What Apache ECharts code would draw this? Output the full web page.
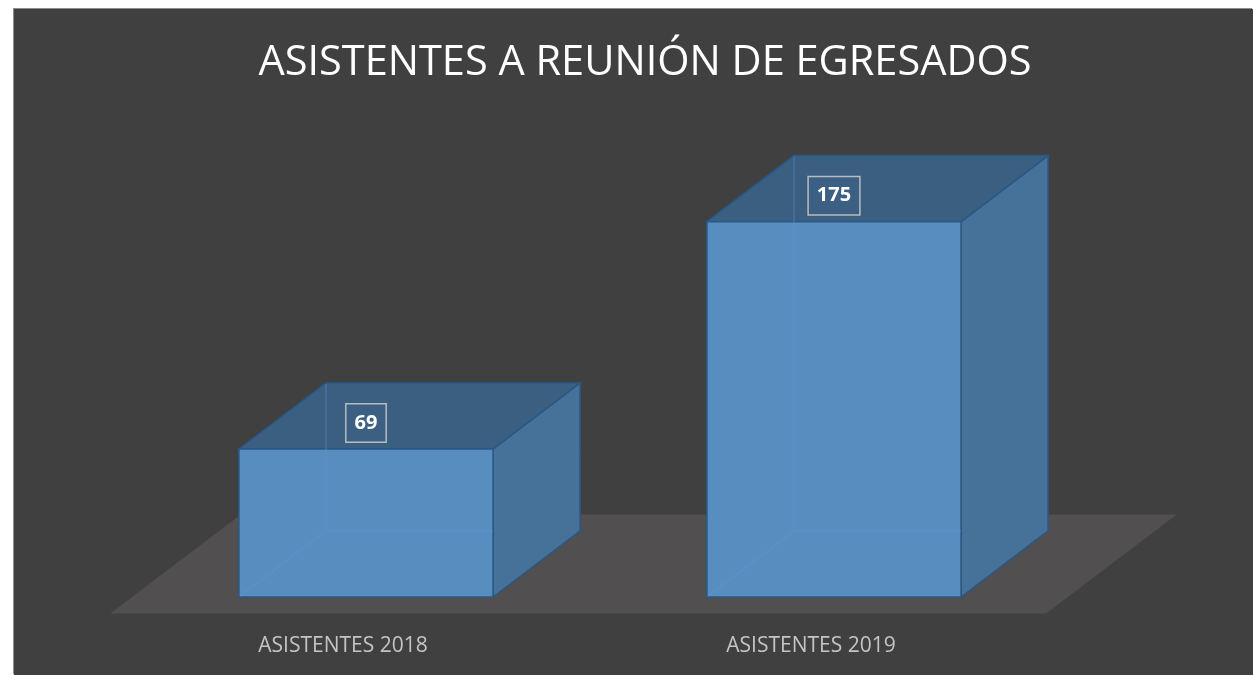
<!DOCTYPE html>
<html>
<head>
<meta charset="utf-8">
<title>Asistentes a reunión de egresados</title>
<script src="https://cdn.jsdelivr.net/npm/echarts@6/dist/echarts.min.js"></script>
<style>
    html, body { margin: 0; padding: 0; background: #ffffff; }
    body { width: 1253px; height: 675px; position: relative; overflow: hidden; }
    #chart {
        position: absolute; left: 14px; top: 9px;
        width: 1239px; height: 666px;
        background: #404040;
        box-shadow: -1px -1px 0 #8c8c8c;
    }
</style>
</head>
<body>
<div id="chart"></div>
<script>
// datos
var categorias = ['ASISTENTES 2018', 'ASISTENTES 2019'];
var asistentes = [69, 175];

var chart = echarts.init(document.getElementById('chart'));

// ancho de la barra respecto a la categoria, y profundidad 3D
var BAR_RATIO = 0.543;
var DEPTH_X = 0.3425;
var DEPTH_Y = -0.26;

// suelo (plano gris debajo de las barras)
function renderSuelo(params, api) {
    var cs = params.coordSys;
    var bw = api.size([1, 0])[0] * BAR_RATIO;
    var dx = bw * DEPTH_X, dy = bw * DEPTH_Y;
    var yb = cs.y + cs.height;
    var x0 = cs.x, x1 = cs.x + cs.width;
    return {
        type: 'polygon',
        shape: {
            points: [
                [x0 - dx * 0.25, yb - dy * 0.25],
                [x1 - dx * 0.25, yb - dy * 0.25],
                [x1 + dx * 1.25, yb + dy * 1.25],
                [x0 + dx * 1.25, yb + dy * 1.25]
            ]
        },
        style: { fill: '#514f50' }
    };
}

// barra 3D
function renderBarra(params, api) {
    var cat = api.value(0), val = api.value(1);
    var top = api.coord([cat, val]);
    var base = api.coord([cat, 0]);
    var bw = api.size([1, 0])[0] * BAR_RATIO;
    var dx = bw * DEPTH_X, dy = bw * DEPTH_Y;
    var x0 = top[0] - bw / 2, x1 = top[0] + bw / 2;
    var y0 = top[1], y1 = base[1];
    var edge = { stroke: '#2a5886', lineWidth: 1.5 };
    var faint = { stroke: 'rgba(90,150,215,0.45)', lineWidth: 1.2 };
    return {
        type: 'group',
        children: [
            {
                type: 'polygon',
                shape: { points: [[x1, y0], [x1 + dx, y0 + dy], [x1 + dx, y1 + dy], [x1, y1]] },
                style: Object.assign({ fill: '#467198' }, edge)
            },
            {
                type: 'polygon',
                shape: { points: [[x0, y0], [x0 + dx, y0 + dy], [x1 + dx, y0 + dy], [x1, y0]] },
                style: Object.assign({ fill: '#3a5f80' }, edge)
            },
            {
                type: 'rect',
                shape: { x: x0, y: y0, width: bw, height: y1 - y0 },
                style: Object.assign({ fill: '#588dc0' }, edge)
            },
            // aristas traseras vistas a traves de la cara frontal
            { type: 'line', shape: { x1: x0 + dx, y1: y0 + dy + 1, x2: x0 + dx, y2: y1 + dy }, style: faint },
            { type: 'line', shape: { x1: x0 + 1, y1: y1 - 1, x2: x0 + dx, y2: y1 + dy }, style: faint },
            { type: 'line', shape: { x1: x0 + dx, y1: y1 + dy, x2: x1, y2: y1 + dy }, style: faint },
            // etiqueta del valor
            {
                type: 'text',
                style: {
                    text: String(val),
                    x: top[0],
                    y: y0 - 26,
                    align: 'center',
                    verticalAlign: 'middle',
                    fill: '#ffffff',
                    font: 'bold 20px "Open Sans", sans-serif',
                    backgroundColor: '#3b6083',
                    borderColor: 'rgba(205,205,205,0.85)',
                    borderWidth: 1.5,
                    padding: [9, 8, 8, 8],
                    boxShadowBlur: 10,
                    boxShadowColor: 'rgba(0,0,0,0.35)',
                    boxShadowOffsetX: 3,
                    boxShadowOffsetY: 4
                }
            }
        ]
    };
}

var option = {
    animation: false,
    title: {
        text: 'ASISTENTES A REUNIÓN DE EGRESADOS',
        left: 626,
        textAlign: 'center',
        top: 28,
        textStyle: {
            color: '#ffffff',
            fontSize: 41.5,
            fontWeight: 'normal',
            fontFamily: 'Open Sans'
        }
    },
    grid: { left: 118, top: 159, width: 936, height: 429 },
    xAxis: {
        type: 'category',
        data: categorias,
        axisLine: { show: false },
        axisTick: { show: false },
        axisLabel: {
            color: '#c4c4c4',
            fontSize: 21,
            fontFamily: 'Open Sans',
            margin: 39,
            padding: [0, 46, 0, 0]
        }
    },
    yAxis: {
        type: 'value',
        min: 0,
        max: 200,
        show: false,
        splitLine: { show: false }
    },
    series: [
        {
            type: 'custom',
            renderItem: renderSuelo,
            data: [[0]],
            z: 1,
            silent: true
        },
        {
            type: 'custom',
            renderItem: renderBarra,
            data: asistentes.map(function (v, i) { return [i, v]; }),
            encode: { x: 0, y: 1 },
            z: 2
        }
    ]
};

chart.setOption(option);
</script>
</body>
</html>
